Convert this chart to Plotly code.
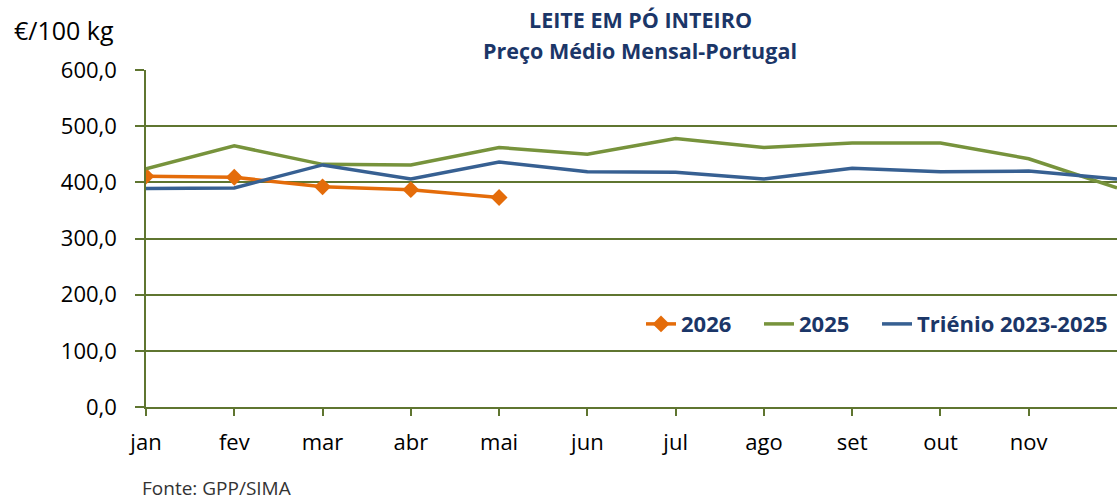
import plotly.graph_objects as go

months = ["jan", "fev", "mar", "abr", "mai", "jun", "jul", "ago", "set", "out", "nov", "dez"]
y2026 = [411, 409, 392, 387, 373]
y2025 = [424, 465, 432, 431, 462, 450, 478, 462, 470, 470, 442, 390]
trienio = [389, 390, 431, 406, 436, 419, 418, 406, 425, 419, 420, 406]
yticks = [0, 100, 200, 300, 400, 500, 600]

FONT = "Open Sans"
NAVY = "#1B3668"
GRID = "#5F7530"

fig = go.Figure()
fig.add_trace(go.Scatter(x=months[:len(y2026)], y=y2026, name="2026", mode="lines+markers",
                         line=dict(color="#E46C0A", width=3.5),
                         marker=dict(symbol="diamond", size=13, color="#E46C0A")))
fig.add_trace(go.Scatter(x=months, y=y2025, name="2025", mode="lines",
                         line=dict(color="#77933C", width=3.5)))
fig.add_trace(go.Scatter(x=months, y=trienio, name="Triénio 2023-2025", mode="lines",
                         legendwidth=191,
                         line=dict(color="#376092", width=3.5)))

fig.update_layout(
    width=1117, height=504,
    margin=dict(l=146, r=0, t=70, b=97),
    paper_bgcolor="white", plot_bgcolor="white",
    separators=",.",
    font=dict(family=FONT, size=22, color="#000000"),
    showlegend=True,
    legend=dict(orientation="h", x=0.9959, xanchor="right", y=0.246, yanchor="middle",
                font=dict(family=FONT, size=22, color=NAVY, weight="bold"),
                bgcolor="rgba(0,0,0,0)", itemwidth=30, traceorder="normal",
                entrywidth=73, entrywidthmode="pixels"),
    xaxis=dict(type="category", categoryarray=months, range=[0, 11],
               tickvals=months[:11], ticktext=months[:11],
               showgrid=False, showline=True, linecolor=GRID, linewidth=1.5,
               ticks="outside", ticklen=7, tickcolor=GRID, tickwidth=1.5,
               ticklabelstandoff=8, tickfont=dict(size=22)),
    yaxis=dict(range=[0, 600], tickvals=yticks, tickformat=".1f",
               showgrid=True, gridcolor=GRID, gridwidth=1.5,
               showline=True, linecolor=GRID, linewidth=1.5, zeroline=False,
               ticks="outside", ticklen=9, tickcolor=GRID, tickwidth=1.5,
               ticklabelstandoff=14, tickfont=dict(size=22)),
)

fig.add_annotation(text="<b>LEITE EM PÓ INTEIRO</b>", xref="paper", yref="paper",
                   x=0.5088, y=1.151, xanchor="center", yanchor="middle", showarrow=False,
                   font=dict(family=FONT, size=21.5, color=NAVY))
fig.add_annotation(text="<b>Preço Médio Mensal-Portugal</b>", xref="paper", yref="paper",
                   x=0.5088, y=1.059, xanchor="center", yanchor="middle", showarrow=False,
                   font=dict(family=FONT, size=21.5, color=NAVY))
fig.add_annotation(text="€/100 kg", xref="paper", yref="paper",
                   x=-0.138, y=1.1187, xanchor="left", yanchor="middle", showarrow=False,
                   font=dict(family=FONT, size=25, color="#000000"))
fig.add_annotation(text="Fonte: GPP/SIMA", xref="paper", yref="paper",
                   x=-0.0062, y=-0.240, xanchor="left", yanchor="middle", showarrow=False,
                   font=dict(family=FONT, size=19, color="#333333"))

fig.write_html("out.html", config={"displayModeBar": False},
               post_script="document.body.style.margin='0';document.body.style.overflow='hidden';")
